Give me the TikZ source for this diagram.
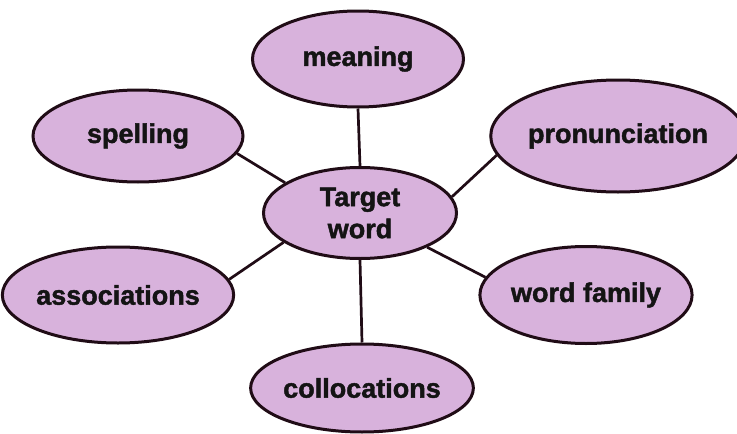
\documentclass[tikz,border=0pt]{standalone}
\usepackage{fontspec}
\setmainfont{Liberation Sans}[BoldFeatures={FakeBold=1.6}]
\usetikzlibrary{shapes.geometric}
\definecolor{lilac}{RGB}{216,178,220}
\definecolor{ink}{RGB}{32,12,22}
\tikzset{
  bubble/.style={ellipse, draw=ink, fill=lilac, line width=3pt, inner sep=0pt,
    font=\fontsize{27}{29}\selectfont\bfseries, text=black!92, align=center},
  link/.style={draw=ink, line width=2.7pt}
}
\begin{document}
\begin{tikzpicture}[x=1pt,y=-1pt]
\useasboundingbox[fill=white] (0,0) rectangle (737,434);
\node[bubble, minimum width=211pt, minimum height=96pt] (meaning) at (358,59) {meaning};
\node[bubble, minimum width=210pt, minimum height=92pt] (spelling) at (138,136) {spelling};
\node[bubble, minimum width=234pt, minimum height=112pt] (pron) at (618,136) {pronunciation};
\node[bubble, minimum width=193pt, minimum height=91pt] (target) at (360,213) {Target\\[3pt]word};
\node[bubble, minimum width=216pt, minimum height=96pt] (assoc) at (118,295) {associations};
\node[bubble, minimum width=210pt, minimum height=97pt] (family) at (586,295) {word family};
\node[bubble, minimum width=213pt, minimum height=88pt] (colloc) at (362,388) {collocations};
\draw[link] (meaning.south) -- (target.north);
\draw[link] (target.south) -- (colloc.north);
\draw[link] (target.158) -- (spelling.350);
\draw[link] (target.10) -- (pron.189);
\draw[link] (target.201) -- (assoc.8);
\draw[link] (target.333) -- (family.170);
\end{tikzpicture}
\end{document}
